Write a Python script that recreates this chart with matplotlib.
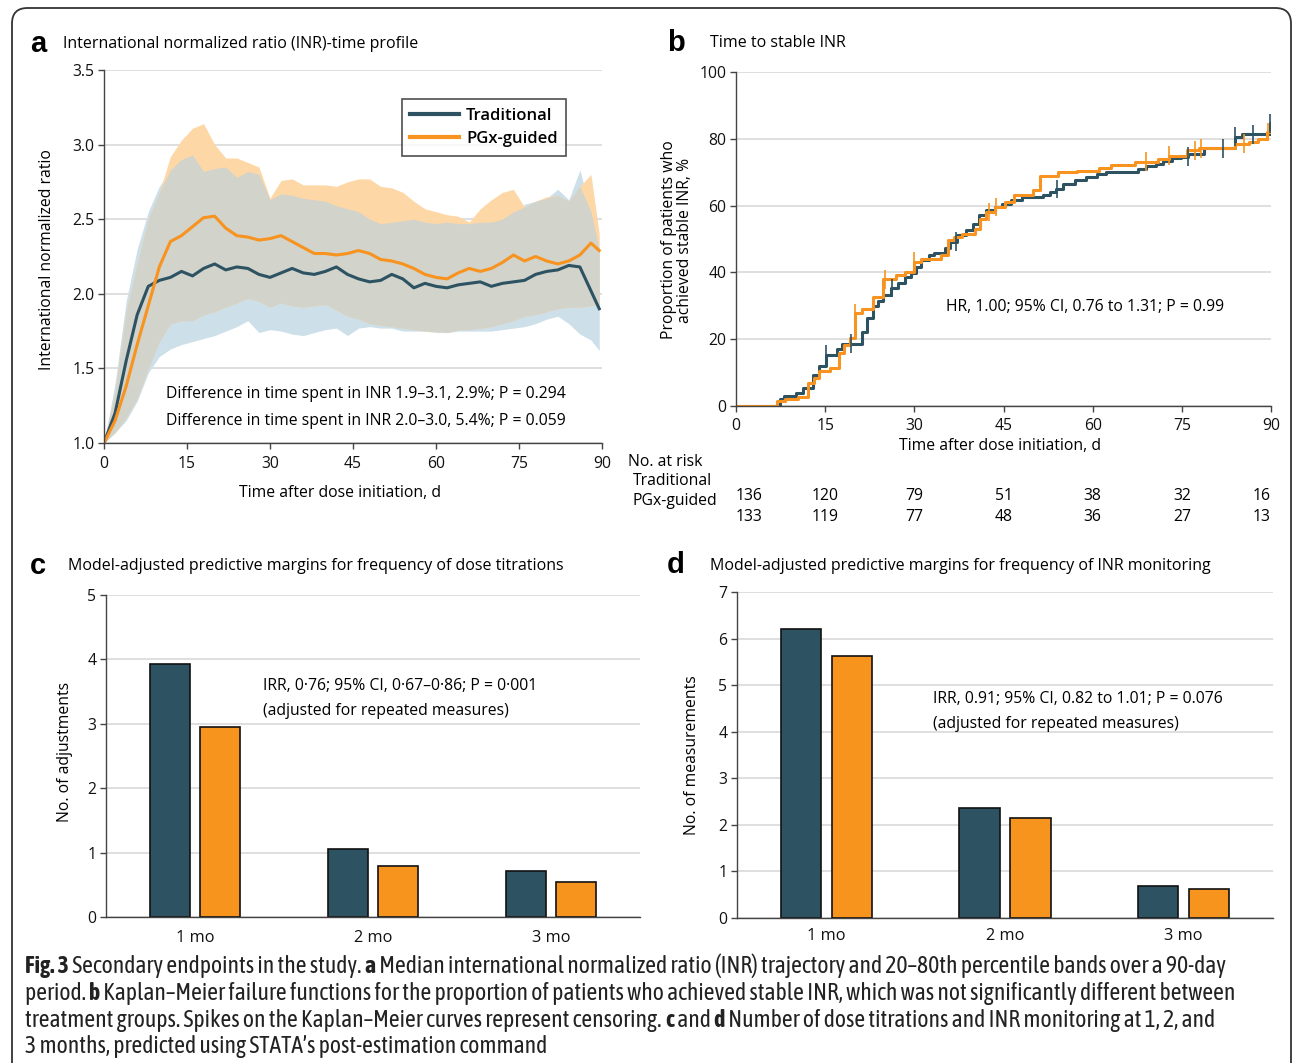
import numpy as np
import matplotlib
matplotlib.use("Agg")
import matplotlib.pyplot as plt
from matplotlib import font_manager
from matplotlib.patches import FancyBboxPatch

W, H = 1292, 1063

# ── Panel a: median INR with 20–80th percentile bands ──────
days = [0, 2, 4, 6, 8, 10, 12, 14, 16, 18, 20, 22, 24, 26, 28, 30, 32, 34, 36, 38,
        40, 42, 44, 46, 48, 50, 52, 54, 56, 58, 60, 62, 64, 66, 68, 70, 72, 74, 76, 78,
        80, 82, 84, 86, 88, 89.5]
trad_med = [1.00, 1.20, 1.55, 1.86, 2.05, 2.09, 2.11, 2.15, 2.12, 2.17, 2.20, 2.16, 2.18, 2.17,
            2.13, 2.11, 2.14, 2.17, 2.14, 2.13, 2.15, 2.18, 2.13, 2.10, 2.08, 2.09, 2.13, 2.10,
            2.04, 2.07, 2.05, 2.04, 2.06, 2.07, 2.08, 2.05, 2.07, 2.08, 2.09, 2.13, 2.15, 2.16,
            2.19, 2.18, 2.02, 1.90]
pgx_med = [1.00, 1.15, 1.38, 1.66, 1.92, 2.18, 2.35, 2.39, 2.45, 2.51, 2.52, 2.44, 2.39, 2.38,
           2.36, 2.37, 2.39, 2.35, 2.31, 2.27, 2.27, 2.26, 2.27, 2.29, 2.27, 2.23, 2.22, 2.20,
           2.17, 2.13, 2.11, 2.10, 2.14, 2.17, 2.15, 2.17, 2.21, 2.26, 2.22, 2.25, 2.22, 2.20,
           2.22, 2.26, 2.34, 2.29]
trad_hi = [1.00, 1.40, 1.95, 2.30, 2.55, 2.72, 2.83, 2.90, 2.93, 2.82, 2.84, 2.85, 2.78, 2.82,
           2.80, 2.63, 2.67, 2.66, 2.64, 2.63, 2.62, 2.59, 2.57, 2.55, 2.50, 2.47, 2.48, 2.49,
           2.50, 2.48, 2.47, 2.48, 2.47, 2.47, 2.48, 2.48, 2.50, 2.55, 2.60, 2.62, 2.64, 2.70,
           2.63, 2.83, 2.55, 2.30]
pgx_hi = [1.00, 1.35, 1.88, 2.20, 2.50, 2.68, 2.92, 3.03, 3.11, 3.14, 3.00, 2.91, 2.91, 2.88,
          2.85, 2.64, 2.76, 2.77, 2.73, 2.73, 2.73, 2.72, 2.75, 2.77, 2.77, 2.72, 2.71, 2.68,
          2.62, 2.57, 2.55, 2.53, 2.52, 2.48, 2.57, 2.63, 2.68, 2.70, 2.58, 2.62, 2.65, 2.66,
          2.62, 2.72, 2.80, 2.40]
trad_lo = [1.00, 1.07, 1.15, 1.28, 1.47, 1.58, 1.63, 1.66, 1.68, 1.70, 1.72, 1.75, 1.78, 1.82,
           1.74, 1.76, 1.75, 1.73, 1.72, 1.74, 1.76, 1.77, 1.72, 1.77, 1.78, 1.77, 1.77, 1.75,
           1.75, 1.75, 1.74, 1.74, 1.75, 1.75, 1.75, 1.75, 1.76, 1.77, 1.78, 1.80, 1.83, 1.85,
           1.80, 1.73, 1.69, 1.62]
pgx_lo = [1.00, 1.07, 1.17, 1.30, 1.50, 1.68, 1.80, 1.82, 1.82, 1.86, 1.88, 1.91, 1.94, 1.97,
          1.95, 1.91, 1.94, 1.92, 1.91, 1.92, 1.93, 1.89, 1.85, 1.83, 1.80, 1.79, 1.78, 1.77,
          1.76, 1.75, 1.75, 1.74, 1.76, 1.76, 1.77, 1.78, 1.80, 1.82, 1.85, 1.86, 1.88, 1.90,
          1.91, 1.91, 1.92, 1.93]

# ── Panel b: Kaplan–Meier cumulative proportion (%) ───────
trad_km_t = [0, 7.4, 8.0, 10.1, 11.3, 12.9, 14.0, 15.2, 17.0, 17.9, 21.2, 22.1, 23.0, 23.9,
             24.8, 26.1, 27.3, 28.5, 29.4, 30.3, 31.2, 32.4, 33.3, 35.1, 36.0, 37.2, 38.7,
             39.9, 40.8, 42.0, 43.5, 44.7, 46.2, 48.1, 51.7, 52.9, 53.8, 55.0, 57.1, 58.9,
             60.7, 62.2, 67.7, 68.9, 70.7, 71.9, 73.4, 74.9, 76.1, 78.8, 83.9, 85.1, 89.8, 90]
trad_km_y = [0, 2.2, 3.0, 4.0, 5.5, 9.4, 12.1, 15.4, 17.1, 18.7, 22.3, 26.3, 29.8, 31.3,
             33.3, 35.3, 36.9, 38.5, 39.9, 41.7, 43.7, 45.2, 45.9, 47.2, 49.2, 51.1, 52.6,
             54.6, 57.1, 58.6, 59.6, 60.6, 61.6, 62.6, 63.1, 64.1, 65.0, 66.5, 67.7, 68.7,
             69.5, 70.0, 71.0, 71.8, 72.5, 73.5, 74.2, 74.7, 75.3, 77.1, 80.6, 81.3, 84.6, 84.6]
pgx_km_t = [0, 6.9, 8.3, 10.5, 12.1, 13.1, 14.0, 15.8, 17.3, 18.2, 19.1, 20.0, 21.2, 23.0,
            24.8, 26.9, 28.5, 30.0, 31.2, 34.5, 35.7, 36.6, 38.1, 40.2, 41.1, 42.0, 43.5,
            45.3, 46.8, 49.9, 51.1, 54.1, 57.4, 61.0, 63.1, 67.1, 71.0, 72.8, 75.8, 77.9,
            83.9, 86.3, 87.8, 89.3, 90]
pgx_km_y = [0, 1.5, 2.0, 2.8, 7.0, 8.4, 10.4, 11.4, 15.9, 18.4, 20.4, 27.8, 29.0, 32.6,
            37.9, 39.2, 40.2, 43.2, 43.9, 45.2, 49.7, 50.6, 51.6, 53.1, 56.1, 58.1, 59.6,
            61.1, 63.1, 64.7, 69.0, 70.0, 70.5, 71.3, 72.2, 73.2, 74.0, 75.0, 76.5, 77.2,
            78.5, 79.0, 80.0, 82.0, 82.0]
trad_censor = [15.2, 19.3, 26.3, 37.0, 54.0, 76.0, 82.0, 84.0, 87.0, 89.9]
pgx_censor = [20.0, 25.0, 30.0, 42.5, 43.8, 69.0, 72.8, 77.2, 78.2, 85.5, 89.5]

risk_times = [0, 15, 30, 45, 60, 75, 90]
risk_trad = [136, 120, 79, 51, 38, 32, 16]
risk_pgx = [133, 119, 77, 48, 36, 27, 13]

# ── Panels c and d: predictive margins ─────────────────────
months = ["1 mo", "2 mo", "3 mo"]
adj_trad = [3.93, 1.05, 0.72]
adj_pgx = [2.95, 0.79, 0.54]
meas_trad = [6.20, 2.36, 0.68]
meas_pgx = [5.63, 2.14, 0.62]

# ── Style ──────────────────────────────────────────────────
C_TRAD = "#2d5262"
C_PGX = "#f7931e"
C_BAR_PGX = "#f7941d"
C_TRAD_BAND = "#cddfe8"
C_PGX_BAND = "#fdd7a6"
C_OVERLAP = "#d2d3cb"
C_GRID = "#dcdcdc"
C_SPINE = "#444444"
TXT = 11.3

plt.rcParams["font.family"] = ["Open Sans", "DejaVu Sans"]
plt.rcParams["font.size"] = 11


def px_x(x):
    return x / W


def px_y(y):
    return 1 - y / H


def axes_box(left, top, right, bottom):
    return [px_x(left), px_y(bottom), (right - left) / W, (bottom - top) / H]


def style_axes(ax):
    for side in ["top", "right"]:
        ax.spines[side].set_visible(False)
    for side in ["left", "bottom"]:
        ax.spines[side].set_color(C_SPINE)
        ax.spines[side].set_linewidth(1.0)
    ax.tick_params(direction="out", length=4, width=1.0, color=C_SPINE,
                   labelsize=11.3, labelcolor="#111111", pad=3)
    ax.tick_params(axis="x", pad=5)
    ax.set_axisbelow(True)
    ax.yaxis.grid(True, color=C_GRID, lw=1.3)


def condensed_family():
    # a narrow/condensed family that also has a bold face, if one is installed
    names = {}
    for f in font_manager.fontManager.ttflist:
        if "Narrow" in f.name or "Condensed" in f.name:
            w = f.weight if isinstance(f.weight, int) else 400
            names.setdefault(f.name, set()).add(w)
    with_bold = [n for n, ws in names.items() if max(ws) >= 600]
    if with_bold:
        return dict(family=[sorted(with_bold)[0], "DejaVu Sans"])
    if names:
        return dict(family=[sorted(names)[0], "DejaVu Sans"])
    return dict(family=["DejaVu Sans"])


fig = plt.figure(figsize=(W / 100, H / 100), dpi=100)

# Frame around the figure (open at the bottom)
frame = FancyBboxPatch((px_x(12), -0.05), px_x(1279), 1.05 - 8 / H,
                       boxstyle="round,pad=0,rounding_size=0.012",
                       mutation_aspect=W / H, transform=fig.transFigure,
                       fill=False, ec="#333333", lw=1.3, clip_on=False)
fig.patches.append(frame)

# ── a ──────────────────────────────────────────────────────
ax = fig.add_axes(axes_box(104, 70, 602, 443))
style_axes(ax)
d = np.array(days)
band_lo = np.maximum(trad_lo, pgx_lo)
band_hi = np.minimum(trad_hi, pgx_hi)
ax.fill_between(d, trad_lo, trad_hi, color=C_TRAD_BAND, lw=0)
ax.fill_between(d, pgx_lo, pgx_hi, color=C_PGX_BAND, lw=0)
ax.fill_between(d, band_lo, band_hi, where=band_hi > band_lo, interpolate=True,
                color=C_OVERLAP, lw=0)
ax.plot(d, trad_med, color=C_TRAD, lw=2.2, label="Traditional")
ax.plot(d, pgx_med, color=C_PGX, lw=2.2, label="PGx-guided")
ax.set_xlim(0, 90)
ax.set_ylim(1.0, 3.5)
ax.set_xticks([0, 15, 30, 45, 60, 75, 90])
ax.set_yticks([1.0, 1.5, 2.0, 2.5, 3.0, 3.5])
ax.set_yticklabels(["1.0", "1.5", "2.0", "2.5", "3.0", "3.5"])
leg = ax.legend(loc="upper right", bbox_to_anchor=(0.928, 0.921), borderaxespad=0,
                prop=dict(size=12, weight="semibold"),
                frameon=True, fancybox=False, handlelength=2.9, borderpad=0.5,
                labelspacing=0.45, handletextpad=0.45)
leg.get_frame().set_edgecolor("#222222")
leg.get_frame().set_linewidth(1.2)
for line in leg.get_lines():
    line.set_linewidth(3.0)
ax.text(0.125, 0.131, "Difference in time spent in INR 1.9–3.1, 2.9%; P = 0.294",
        transform=ax.transAxes, fontsize=TXT, va="center")
ax.text(0.125, 0.058, "Difference in time spent in INR 2.0–3.0, 5.4%; P = 0.059",
        transform=ax.transAxes, fontsize=TXT, va="center")
fig.text(px_x(340), px_y(493), "Time after dose initiation, d", ha="center", va="center",
         fontsize=TXT)
fig.text(px_x(47), px_y(260), "International normalized ratio", rotation=90,
         ha="center", va="center", fontsize=TXT)

# ── b ──────────────────────────────────────────────────────
bx = fig.add_axes(axes_box(736, 72, 1271, 406))
style_axes(bx)
bx.step(trad_km_t, trad_km_y, where="post", color=C_TRAD, lw=2.2)
bx.step(pgx_km_t, pgx_km_y, where="post", color=C_PGX, lw=2.2)
for times, ys, cens, col in [(trad_km_t, trad_km_y, trad_censor, C_TRAD),
                             (pgx_km_t, pgx_km_y, pgx_censor, C_PGX)]:
    idx = np.searchsorted(times, cens, side="right") - 1
    cy = np.array(ys)[idx]
    bx.vlines(cens, cy - 2.8, cy + 2.8, color=col, lw=1.2)
bx.set_xlim(0, 90)
bx.set_ylim(0, 100)
bx.set_xticks(risk_times)
bx.set_yticks([0, 20, 40, 60, 80, 100])
bx.text(0.393, 0.296, "HR, 1.00; 95% CI, 0.76 to 1.31; P = 0.99", transform=bx.transAxes,
        fontsize=TXT, va="center")
fig.text(px_x(1000), px_y(446), "Time after dose initiation, d", ha="center", va="center",
         fontsize=TXT)
fig.text(px_x(677), px_y(240), "Proportion of patients who\nachieved stable INR, %",
         rotation=90, ha="center", va="center", fontsize=TXT, linespacing=1.0)

# number at risk
fig.text(px_x(628), px_y(462), "No. at risk", va="center", fontsize=TXT)
fig.text(px_x(633), px_y(481), "Traditional", va="center", fontsize=TXT)
fig.text(px_x(633), px_y(501), "PGx-guided", va="center", fontsize=TXT)
risk_tr = bx.get_xaxis_transform()
for i, t in enumerate(risk_times):
    ha = "left" if i == 0 else ("right" if i == len(risk_times) - 1 else "center")
    bx.text(t, (406 - 496) / 334, str(risk_trad[i]), transform=risk_tr, ha=ha,
            va="center", fontsize=TXT, clip_on=False)
    bx.text(t, (406 - 517) / 334, str(risk_pgx[i]), transform=risk_tr, ha=ha,
            va="center", fontsize=TXT, clip_on=False)

# ── c and d ────────────────────────────────────────────────
bar_w = 0.225
off = 0.143
x = np.arange(len(months))

cx = fig.add_axes(axes_box(106, 595, 640, 917))
style_axes(cx)
cx.bar(x - off, adj_trad, bar_w, color=C_TRAD, edgecolor="#111111", lw=1.2)
cx.bar(x + off, adj_pgx, bar_w, color=C_BAR_PGX, edgecolor="#111111", lw=1.2)
cx.set_xlim(-0.5, 2.5)
cx.set_ylim(0, 5)
cx.set_yticks([0, 1, 2, 3, 4, 5])
cx.set_xticks(x)
cx.set_xticklabels(months, fontsize=11.8)
cx.tick_params(axis="x", length=0, pad=9)
cx.text(0.294, 0.679, "IRR, 0·76; 95% CI, 0·67–0·86; P = 0·001\n(adjusted for repeated measures)",
        transform=cx.transAxes, fontsize=TXT, va="center", linespacing=1.75)
fig.text(px_x(65), px_y(752), "No. of adjustments", rotation=90, ha="center", va="center",
         fontsize=TXT)

dx = fig.add_axes(axes_box(737, 592, 1273, 918))
style_axes(dx)
dx.bar(x - off, meas_trad, bar_w, color=C_TRAD, edgecolor="#111111", lw=1.2)
dx.bar(x + off, meas_pgx, bar_w, color=C_BAR_PGX, edgecolor="#111111", lw=1.2)
dx.set_xlim(-0.5, 2.5)
dx.set_ylim(0, 7)
dx.set_yticks([0, 1, 2, 3, 4, 5, 6, 7])
dx.set_xticks(x)
dx.set_xticklabels(months, fontsize=11.8)
dx.tick_params(axis="x", length=0, pad=7)
dx.text(0.366, 0.634, "IRR, 0.91; 95% CI, 0.82 to 1.01; P = 0.076\n(adjusted for repeated measures)",
        transform=dx.transAxes, fontsize=TXT, va="center", linespacing=1.75)
fig.text(px_x(692), px_y(755), "No. of measurements", rotation=90, ha="center", va="center",
         fontsize=TXT)

# ── Panel letters and titles ───────────────────────────────
letter_font = ["Liberation Sans", "DejaVu Sans"]
for lx, ly, letter in [(38, 44, "a"), (676, 43, "b"), (38, 566, "c"), (676, 565, "d")]:
    fig.text(px_x(lx), px_y(ly), letter, ha="center", va="center", fontsize=21,
             fontweight="bold", family=letter_font)
for tx, ty, title in [(63, 44, "International normalized ratio (INR)-time profile"),
                      (710, 43, "Time to stable INR"),
                      (68, 566, "Model-adjusted predictive margins for frequency of dose titrations"),
                      (710, 566, "Model-adjusted predictive margins for frequency of INR monitoring")]:
    fig.text(px_x(tx), px_y(ty), title, va="center", fontsize=11.5)

# ── Caption with inline bold runs ──────────────────────────
cap_kw = condensed_family()

caption = [
    [("Fig. 3", True), (" Secondary endpoints in the study. ", False), ("a", True),
     (" Median international normalized ratio (INR) trajectory and 20–80th percentile bands over a 90-day", False)],
    [("period. ", False), ("b", True),
     (" Kaplan–Meier failure functions for the proportion of patients who achieved stable INR, which was not significantly different between", False)],
    [("treatment groups. Spikes on the Kaplan–Meier curves represent censoring. ", False), ("c", True),
     (" and ", False), ("d", True),
     (" Number of dose titrations and INR monitoring at 1, 2, and", False)],
    [("3 months, predicted using STATA’s post-estimation command", False)],
]
cap_y = [967, 994, 1021, 1047]

renderer = fig.canvas.get_renderer()


def line_width(runs, size):
    total = 0
    for s, bold in runs:
        t = fig.text(0, 0, s.replace(" ", "\u00a0"), fontsize=size,
                     fontweight="bold" if bold else "normal", **cap_kw)
        total += t.get_window_extent(renderer).width
        t.remove()
    return total


cap_size = 14.5
target = 1243 - 25
cap_size = min(17.0, cap_size * target / line_width(caption[1], cap_size))

for runs, yy in zip(caption, cap_y):
    cx_px = 25
    for s, bold in runs:
        t = fig.text(px_x(cx_px), px_y(yy + 6), s.replace(" ", "\u00a0"), fontsize=cap_size,
                     fontweight="bold" if bold else "normal", va="baseline",
                     color="#222222", **cap_kw)
        cx_px += t.get_window_extent(renderer).width

fig.savefig("out.png", dpi=100)
